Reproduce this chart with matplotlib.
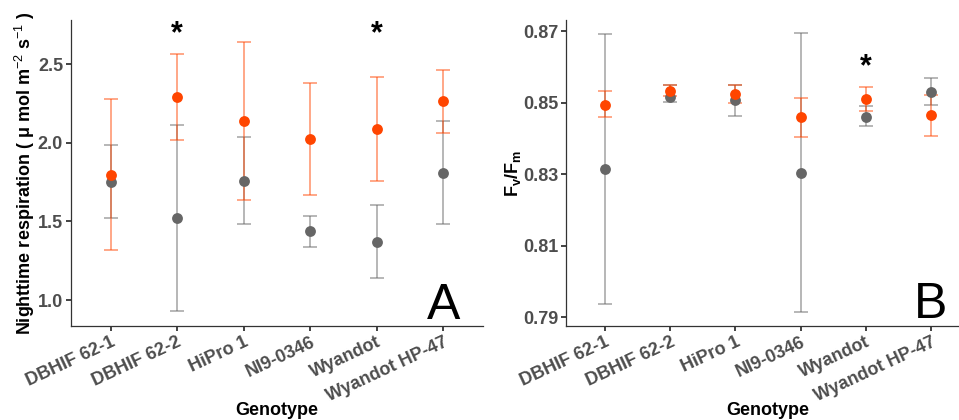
import matplotlib
matplotlib.use("Agg")
import matplotlib.pyplot as plt
import numpy as np

plt.rcParams['font.family'] = ['Liberation Sans', 'DejaVu Sans']
plt.rcParams['mathtext.fontset'] = 'custom'
plt.rcParams['mathtext.rm'] = 'Liberation Sans'
plt.rcParams['mathtext.it'] = 'Liberation Sans:italic'
plt.rcParams['mathtext.bf'] = 'Liberation Sans:bold'

genotypes = ['DBHIF 62-1', 'DBHIF 62-2', 'HiPro 1', 'NI9-0346', 'Wyandot', 'Wyandot HP-47']

# Panel A: nighttime respiration
resp_grey = [1.75, 1.52, 1.756, 1.438, 1.37, 1.809]
resp_grey_lo = [1.52, 0.93, 1.483, 1.34, 1.142, 1.483]
resp_grey_hi = [1.985, 2.112, 2.036, 1.536, 1.606, 2.137]
resp_orange = [1.794, 2.29, 2.137, 2.021, 2.089, 2.263]
resp_orange_lo = [1.32, 2.017, 1.638, 1.665, 1.756, 2.064]
resp_orange_hi = [2.275, 2.566, 2.64, 2.377, 2.42, 2.461]
resp_stars = [2, 5]

# Panel B: Fv/Fm
fvfm_grey = [0.8314, 0.8517, 0.8506, 0.8304, 0.8461, 0.853]
fvfm_grey_lo = [0.7936, 0.8501, 0.8463, 0.7914, 0.8434, 0.8494]
fvfm_grey_hi = [0.8693, 0.8548, 0.8549, 0.8695, 0.8491, 0.8569]
fvfm_orange = [0.8494, 0.8531, 0.8524, 0.8459, 0.8509, 0.8465]
fvfm_orange_lo = [0.846, 0.8519, 0.8498, 0.8405, 0.8476, 0.8406]
fvfm_orange_hi = [0.8531, 0.855, 0.855, 0.8514, 0.8543, 0.8522]
fvfm_stars = [5]

GREY = '#666666'
ORANGE = '#FF4500'

W, H = 959, 420
fig = plt.figure(figsize=(W / 100, H / 100), dpi=100)


def px_axes(x0, x1, y0, y1):
    return fig.add_axes([x0 / W, 1 - y1 / H, (x1 - x0) / W, (y1 - y0) / H])


def draw(ax, mean_g, lo_g, hi_g, mean_o, lo_o, hi_o):
    x = np.arange(1, len(genotypes) + 1)
    for m, lo, hi, c in [(mean_g, lo_g, hi_g, GREY), (mean_o, lo_o, hi_o, ORANGE)]:
        m, lo, hi = np.array(m), np.array(lo), np.array(hi)
        ax.errorbar(x, m, yerr=[m - lo, hi - m], fmt='none', ecolor=c, alpha=0.55,
                    elinewidth=1.2, capsize=5, capthick=1.2, zorder=2)
        ax.plot(x, m, 'o', color=c, markersize=7.8, markeredgewidth=0, zorder=3)
    ax.set_xlim(0.4, 6.6)
    ax.set_xticks(x)
    ax.set_xticklabels(genotypes, rotation=25, ha='right', rotation_mode='anchor')
    for s in ['top', 'right']:
        ax.spines[s].set_visible(False)
    for s in ['left', 'bottom']:
        ax.spines[s].set_color('#333333')
        ax.spines[s].set_linewidth(0.9)
    ax.tick_params(length=3.5, width=1.2, color='#222222', labelsize=13,
                   labelcolor='#4D4D4D', pad=2)
    for lab in ax.get_xticklabels() + ax.get_yticklabels():
        lab.set_fontweight('bold')
    ax.set_xlabel('Genotype', fontsize=13, fontweight='bold')
    ax.xaxis.set_label_coords(0.5, -0.247)


axA = px_axes(70.7, 483, 20, 326)
draw(axA, resp_grey, resp_grey_lo, resp_grey_hi, resp_orange, resp_orange_lo, resp_orange_hi)
axA.set_ylim(0.835, 2.78)
axA.set_yticks([1.0, 1.5, 2.0, 2.5])
axA.set_yticklabels(['1.0', '1.5', '2.0', '2.5'])
axA.set_ylabel('Nighttime respiration ( μ mol m$^{-2}$ s$^{-1}$ )',
               fontsize=13, fontweight='bold')
axA.yaxis.set_label_coords(-0.082, 0.5)
for i in resp_stars:
    axA.text(i, 2.641, '*', fontsize=22, fontweight='bold', ha='center', va='baseline')
axA.text(6, 0.879, 'A', fontsize=36, ha='center', va='baseline')

axB = px_axes(566, 970, 20, 326)
draw(axB, fvfm_grey, fvfm_grey_lo, fvfm_grey_hi, fvfm_orange, fvfm_orange_lo, fvfm_orange_hi)
axB.set_ylim(0.7875, 0.8731)
axB.set_yticks([0.79, 0.81, 0.83, 0.85, 0.87])
axB.set_yticklabels(['0.79', '0.81', '0.83', '0.85', '0.87'])
axB.set_ylabel(r'$\mathbf{F_v/F_m}$', fontsize=13)
axB.yaxis.set_label_coords(-0.106, 0.5)
for i in fvfm_stars:
    axB.text(i, 0.8576, '*', fontsize=22, fontweight='bold', ha='center', va='baseline')
axB.text(6, 0.7896, 'B', fontsize=36, ha='center', va='baseline')

fig.savefig('out.png', dpi=100)
